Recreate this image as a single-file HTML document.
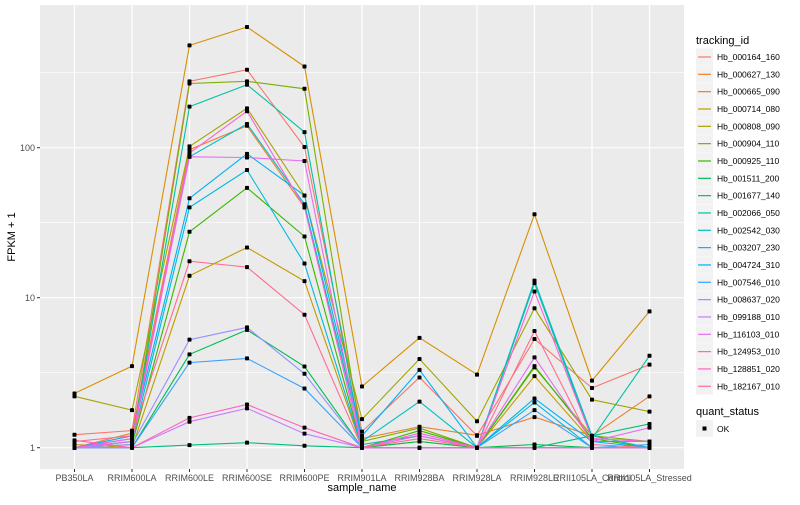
<!DOCTYPE html>
<html><head><meta charset="utf-8"><style>
body{margin:0;background:#fff;font-family:"Liberation Sans",sans-serif;}
svg text{font-family:"Liberation Sans",sans-serif;}
</style></head><body>
<svg id="chart" width="800" height="500" xmlns="http://www.w3.org/2000/svg"></svg>
<script>
const categories=["PB350LA","RRIM600LA","RRIM600LE","RRIM600SE","RRIM600PE","RRIM901LA","RRIM928BA","RRIM928LA","RRIM928LE","RRII105LA_Control","RRII105LA_Stressed"];
const seriesNames=["Hb_000164_160","Hb_000627_130","Hb_000665_090","Hb_000714_080","Hb_000808_090","Hb_000904_110","Hb_000925_110","Hb_001511_200","Hb_001677_140","Hb_002066_050","Hb_002542_030","Hb_003207_230","Hb_004724_310","Hb_007546_010","Hb_008637_020","Hb_099188_010","Hb_116103_010","Hb_124953_010","Hb_128851_020","Hb_182167_010"];
const colors=["#F8766D","#EA8331","#D89000","#C09B00","#A3A500","#7CAE00","#39B600","#00BB4E","#00BF7D","#00C1A3","#00BFC4","#00BAE0","#00B0F6","#35A2FF","#9590FF","#C77CFF","#E76BF3","#FA62DB","#FF62BC","#FF6C91"];
const s0=[1.22,1.3,277,331,101,1.28,2.94,1.2,5.3,2.5,3.58];
const s1=[1.0,1.25,97,140,40,1.15,1.38,1.21,1.6,1.2,2.2];
const s2=[2.3,3.5,481,638,348,2.56,5.4,3.07,36,2.8,8.1];
const s3=[1.05,1.0,14,21.6,12.9,1.0,1.1,1.0,3.0,1.1,1.1];
const s4=[2.2,1.78,102,183,48,1.55,3.9,1.5,8.5,2.09,1.74];
const s5=[1.0,1.1,268,277,247,1.1,1.35,1.0,3.43,1.2,1.1];
const s6=[1.0,1.05,27.5,54,25.6,1.0,1.3,1.0,3.5,1.15,1.0];
const s7=[1.0,1.0,4.19,6.1,3.48,1.0,1.1,1.0,1.05,1.0,1.0];
const s8=[1.0,1.0,1.04,1.08,1.03,1.0,1.0,1.0,1.0,1.2,1.44];
const s9=[1.0,1.1,188,263,127,1.05,1.2,1.0,12.5,1.15,4.1];
const s10=[1.0,1.15,87,144,42,1.1,2.03,1.0,13,1.2,1.0];
const s11=[1.0,1.1,40,71,16.9,1.0,1.0,1.0,2.0,1.0,1.0];
const s12=[1.0,1.2,46,91,48,1.2,3.3,1.0,2.13,1.1,1.0];
const s13=[1.0,1.0,3.69,3.94,2.48,1.0,1.0,1.0,1.78,1.0,1.05];
const s14=[1.0,1.05,5.25,6.34,3.11,1.0,1.0,1.0,1.0,1.0,1.0];
const s15=[1.0,1.0,1.49,1.83,1.24,1.0,1.0,1.0,1.0,1.0,1.0];
const s16=[1.0,1.1,87,86,81.5,1.0,1.2,1.0,4.0,1.1,1.36];
const s17=[1.0,1.15,92,175,40,1.0,1.25,1.0,11,1.15,1.1];
const s18=[1.12,1.0,1.58,1.94,1.36,1.0,1.0,1.0,1.0,1.0,1.0];
const s19=[1.1,1.2,17.5,16,7.7,1.0,1.15,1.0,6.0,1.05,1.0];
const series=[s0,s1,s2,s3,s4,s5,s6,s7,s8,s9,s10,s11,s12,s13,s14,s15,s16,s17,s18,s19];
const yTicks=[1,10,100];
const yTickLabels=["1","10","100"];

const NS="http://www.w3.org/2000/svg";
const svg=document.getElementById('chart');
const PL=40,PR=684,PT=5,PB=469;
const step=(PR-PL)/(categories.length-1+1.2);
function xs(i){return PL+(0.6+i)*step;}
function ys(v){return 447.7-150*Math.log10(v);}
function mk(tag,attrs,parent){const e=document.createElementNS(NS,tag);for(const k in attrs)e.setAttribute(k,attrs[k]);(parent||svg).appendChild(e);return e;}

const panel=mk('rect',{x:PL,y:PT,width:PR-PL,height:PB-PT,fill:'#EBEBEB'});


[Math.sqrt(10),Math.sqrt(1000),Math.sqrt(100000)].forEach(v=>{mk('line',{x1:PL,x2:PR,y1:ys(v),y2:ys(v),stroke:'#fff','stroke-width':0.6});});
yTicks.forEach((v,i)=>{
  mk('line',{x1:PL,x2:PR,y1:ys(v),y2:ys(v),stroke:'#fff','stroke-width':1.2});
  mk('line',{x1:PL-3,x2:PL,y1:ys(v),y2:ys(v),stroke:'#333','stroke-width':1});
  const t=mk('text',{x:PL-5,y:ys(v)+3.5,'text-anchor':'end','font-size':9,fill:'#4d4d4d'});t.textContent=yTickLabels[i];
  
  
});
categories.forEach((c,i)=>{
  mk('line',{x1:xs(i),x2:xs(i),y1:PT,y2:PB,stroke:'#fff','stroke-width':1.2});
  mk('line',{x1:xs(i),x2:xs(i),y1:PB,y2:PB+3,stroke:'#333','stroke-width':1});
  const t=mk('text',{x:xs(i),y:PB+12,'text-anchor':'middle','font-size':9,fill:'#4d4d4d'});t.textContent=c;
  
  
});
series.forEach((s,k)=>{
  const pts=s.map((v,i)=>xs(i).toFixed(1)+','+ys(v).toFixed(1)).join(' ');
  const pl=mk('polyline',{points:pts,fill:'none',stroke:colors[k],'stroke-width':1.1});
  
  
});
series.forEach((s,k)=>{
  s.forEach((v,i)=>{
    const r=mk('rect',{x:xs(i)-2,y:ys(v)-2,width:4,height:4,rx:0.8,fill:'#000'});
    
    
  });
});
const yt=mk('text',{x:0,y:0,transform:'translate(15,'+((PT+PB)/2)+') rotate(-90)','text-anchor':'middle','font-size':11,fill:'#000'});yt.textContent='FPKM + 1';


const xt=mk('text',{x:(PL+PR)/2,y:491,'text-anchor':'middle','font-size':11,fill:'#000'});xt.textContent='sample_name';


const lg=mk('g',{});


const lt=mk('text',{x:696,y:44,'font-size':11,fill:'#000'},lg);lt.textContent='tracking_id';
seriesNames.forEach((n,k)=>{
  const y=57+k*17.33;
  const g=mk('g',{},lg);
  
  
  mk('rect',{x:696,y:y-8.5,width:17,height:17,fill:'#F2F2F2'},g);
  mk('line',{x1:698,x2:711,y1:y,y2:y,stroke:colors[k],'stroke-width':1.2},g);
  const t=mk('text',{x:717,y:y+3,'font-size':8.5,fill:'#000'},g);t.textContent=n;
});
const qt=mk('text',{x:696,y:415,'font-size':11,fill:'#000'},lg);qt.textContent='quant_status';
const qg=mk('g',{},lg);


mk('rect',{x:696,y:420,width:17,height:17,fill:'#F2F2F2'},qg);
mk('rect',{x:702.5,y:426.5,width:4,height:4,fill:'#000'},qg);
const ok=mk('text',{x:717,y:432,'font-size':8.5,fill:'#000'},qg);ok.textContent='OK';
</script>
</body></html>
